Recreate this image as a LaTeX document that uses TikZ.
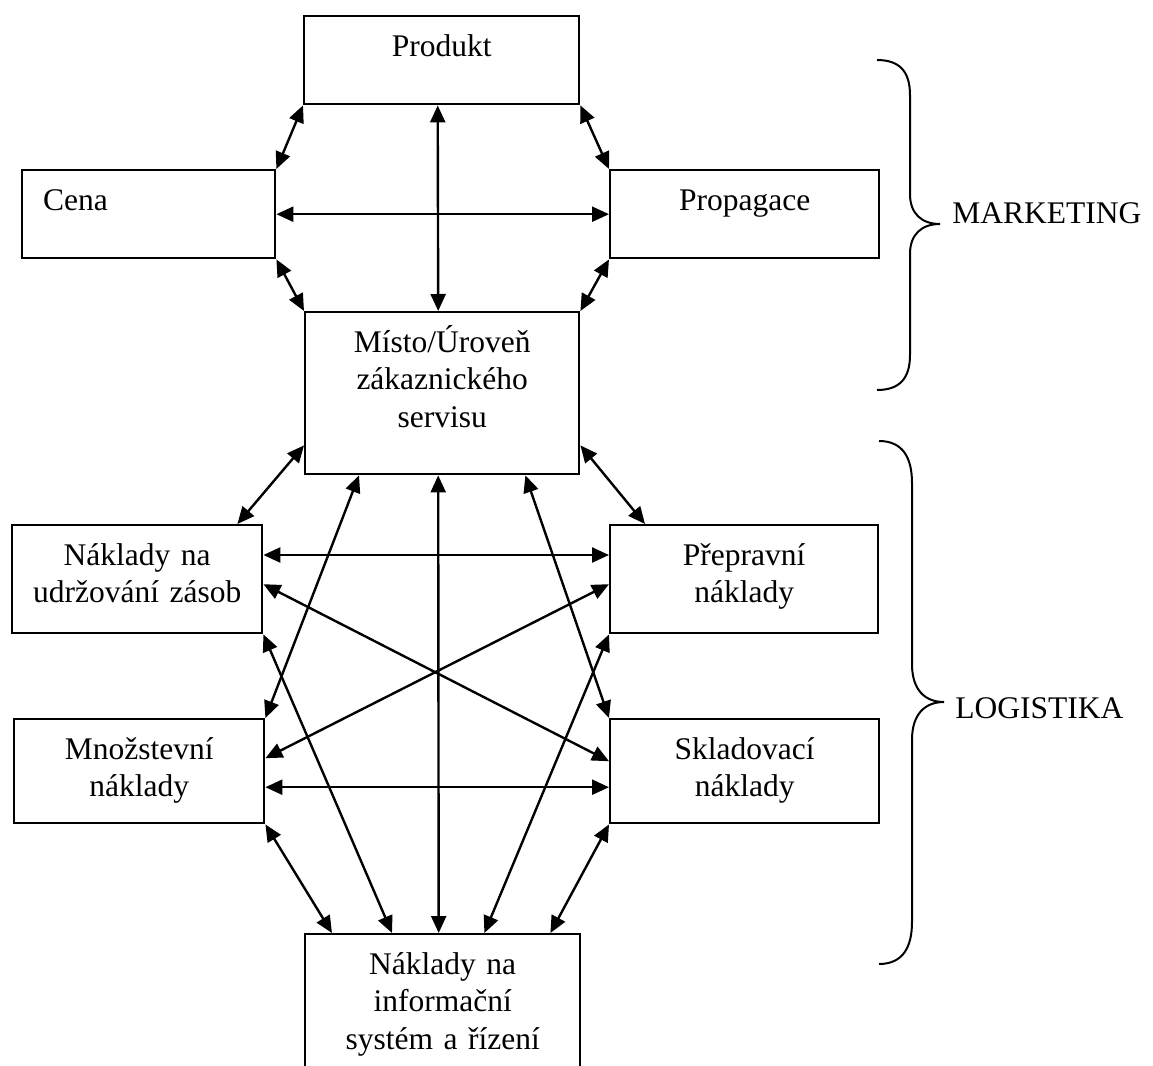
\documentclass[tikz,border=0pt]{standalone}
\usepackage{fontspec}
\setmainfont{Liberation Serif}
\usetikzlibrary{arrows.meta}

\newcommand*{\picw}{1153}
\newcommand*{\pich}{1066}

\begin{document}
\begin{tikzpicture}
[
	x=0.5pt, y=-0.5pt,
	font=\fontsize{15.75pt}{18.7pt}\selectfont,
	box/.style={draw,line width=1.2pt,align=center,inner xsep=0pt,inner ysep=0pt,anchor=north west,text height=20pt},
	link/.style={{Triangle[length=8.5pt,width=7.5pt]}-{Triangle[length=8.5pt,width=7.5pt]},line width=1.2pt},
	curly/.style={line width=1pt}
]

	\useasboundingbox (0,0) rectangle (\picw,\pich);
	\clip (0,0) rectangle (\picw,\pich);

	% marketing mix
	\node[box,text width=137.5pt,text depth=24pt] (prod) at (303,15) {Produkt};
	\node[box,text width=105.5pt,inner xsep=10.5pt,align=left,text depth=24pt] (cena) at (21,169) {Cena};
	\node[box,text width=134.5pt,text depth=24pt] (prop) at (609,169) {Propagace};
	\node[box,text width=137pt,text depth=61pt] (misto) at (304,311) {Místo/Úroveň\\zákaznického\\servisu};

	% logistic costs
	\node[box,text width=125pt,text depth=34pt] (udrz) at (11,524) {Náklady na\\udržování zásob};
	\node[box,text width=134pt,text depth=34pt] (prep) at (609,524) {Přepravní\\náklady};
	\node[box,text width=125pt,text depth=32pt] (mnoz) at (13,718) {Množstevní\\náklady};
	\node[box,text width=134.5pt,text depth=32pt] (sklad) at (609,718) {Skladovací\\náklady};
	\node[box,text width=137.5pt,text depth=60pt] (info) at (304,933) {Náklady na\\informační\\systém a řízení};

	% corner links
	\foreach \a/\b in {prod.south west/cena.north east,prod.south east/prop.north west,cena.south east/misto.north west,prop.south west/misto.north east} {
		\draw[link] (\a) -- (\b);
	}

	% upper cross
	\draw[link] ([xshift=-2pt]prod.south) -- ([xshift=-2pt]misto.north);
	\draw[link] (cena.east) -- (prop.west);

	% from place
	\draw[link] ([yshift=15pt]misto.south west) -- ([xshift=-13pt]udrz.north east);
	\draw[link] ([yshift=15pt]misto.south east) -- ([xshift=18pt]prep.north west);
	\draw[link] ([xshift=27.5pt]misto.south west) -- (mnoz.north east);
	\draw[link] ([xshift=-27.5pt]misto.south east) -- (sklad.north west);
	\draw[link] ([xshift=-2pt]misto.south) -- ([xshift=-2pt]info.north);

	% between costs
	\draw[link] ([yshift=-15.5pt]udrz.north east) -- ([yshift=-15.5pt]prep.north west);
	\draw[link] ([yshift=-2.5pt]udrz.east) -- ([yshift=5pt]sklad.west);
	\draw[link] ([yshift=-2.5pt]prep.west) -- ([yshift=6.5pt]mnoz.east);
	\draw[link] ([yshift=-8pt]mnoz.east) -- ([yshift=-8pt]sklad.west);

	% to information system
	\draw[link] (udrz.south east) -- ([xshift=44pt]info.north west);
	\draw[link] (prep.south west) -- ([xshift=-48.5pt]info.north east);
	\draw[link] (mnoz.south east) -- ([xshift=14pt]info.north west);
	\draw[link] (sklad.south west) -- ([xshift=-15.5pt]info.north east);

	% braces
	\draw[curly] (877,60) .. controls (900,60) and (910,72) .. (910,95) -- (910,194)
		.. controls (910,214) and (922,224) .. (940,224)
		.. controls (922,224) and (910,234) .. (910,254) -- (910,355)
		.. controls (910,378) and (900,390) .. (877,390);
	\node[anchor=base west,inner sep=0pt] (mkt) at (952,223) {MARKETING};

	\draw[curly] (879,441) .. controls (903,441) and (912,458) .. (912,483) -- (912,664)
		.. controls (912,690) and (925,702) .. (944,702)
		.. controls (925,702) and (912,714) .. (912,740) -- (912,922)
		.. controls (912,947) and (903,964) .. (879,964);
	\node[anchor=base west,inner sep=0pt] (log) at (955,718) {LOGISTIKA};

\end{tikzpicture}
\end{document}
